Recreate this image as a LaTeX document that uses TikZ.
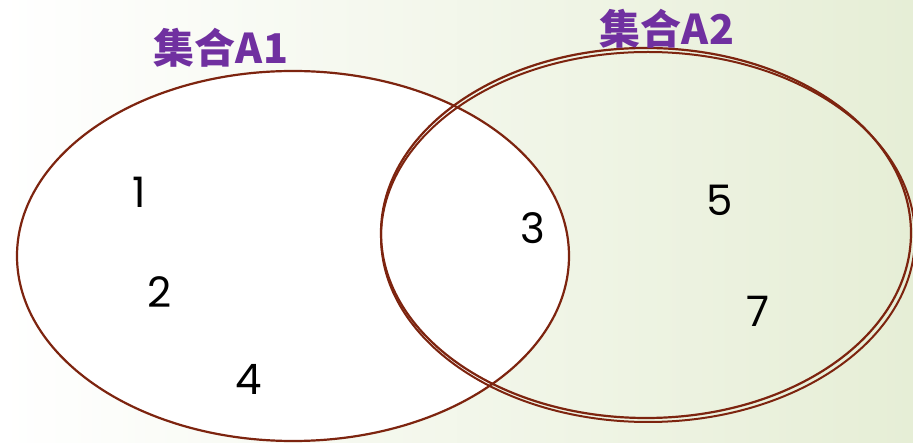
\documentclass[tikz,border=0pt]{standalone}
\usepackage{fontspec}
\setmainfont{Poppins}
\newfontfamily\cjk{Noto Sans CJK SC}
\usetikzlibrary{shapes.geometric}
\definecolor{edge}{RGB}{125,36,15}
\definecolor{ttl}{RGB}{112,48,160}
\definecolor{bgr}{RGB}{230,238,214}
\begin{document}
\begin{tikzpicture}[x=1pt,y=-1pt,
  setline/.style={draw=edge,line width=2.2pt},
  ttlstyle/.style={text=ttl,font=\cjk\bfseries\fontsize{41}{46}\selectfont,inner sep=0pt},
  numstyle/.style={font=\fontsize{42}{48}\selectfont,inner sep=0pt,text=black}]
\useasboundingbox (0,0) rectangle (913,443);
\shade[left color=white,right color=bgr] (0,0) rectangle (913,443);
% A1 filled white
\node[setline,fill=white,ellipse,minimum width=552pt,minimum height=370pt,inner sep=0pt] (A1) at (293,256) {};
% A2 double outline
\node[draw=edge,line width=2pt,ellipse,minimum width=534pt,minimum height=370pt,inner sep=0pt] (A2b) at (648,237) {};
\node[setline,ellipse,minimum width=530pt,minimum height=370pt,inner sep=0pt] (A2) at (646,233) {};
\node[ttlstyle] (t1) at (221,48) {集合A1};
\node[ttlstyle] (t2) at (667,29) {集合A2};
\node[numstyle] (n1) at (139,192) {1};
\node[numstyle] (n2) at (160,292) {2};
\node[numstyle] (n3) at (533,228) {3};
\node[numstyle] (n4) at (249,379) {4};
\node[numstyle] (n5) at (720,200) {5};
\node[numstyle] (n7) at (758,311) {7};
\end{tikzpicture}
\end{document}
